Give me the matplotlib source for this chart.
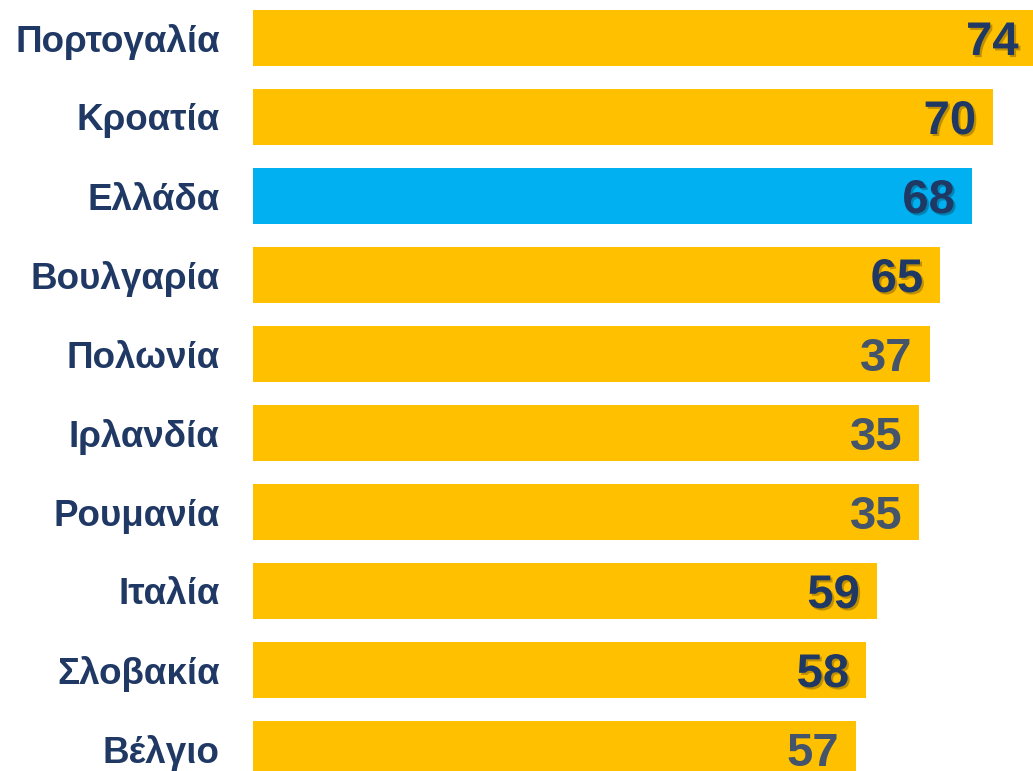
import matplotlib
matplotlib.use("Agg")
import matplotlib.pyplot as plt
import matplotlib.patheffects as pe

countries = ["Πορτογαλία", "Κροατία", "Ελλάδα", "Βουλγαρία", "Πολωνία",
             "Ιρλανδία", "Ρουμανία", "Ιταλία", "Σλοβακία", "Βέλγιο"]
bar_values = [74, 70, 68, 65, 64, 63, 63, 59, 58, 57]
labels = ["74", "70", "68", "65", "37", "35", "35", "59", "58", "57"]
highlight = "Ελλάδα"
gray_labels = ["Πολωνία", "Ιρλανδία", "Ρουμανία", "Βέλγιο"]

yellow = "#FFC000"
blue = "#00B0F0"
navy = "#1F3864"
slate = "#44546A"

plt.rcParams["font.family"] = ["Liberation Sans", "DejaVu Sans"]

fig = plt.figure(figsize=(10.33, 7.71), dpi=100)
ax = fig.add_axes([253 / 1033, 0, 1 - 253 / 1033, 1])

px_per_unit = 10.575
ax.set_xlim(0, 780 / px_per_unit)
ax.set_ylim((771 - 38) / 79, -38 / 79)

ypos = list(range(len(countries)))
colors = [blue if c == highlight else yellow for c in countries]
ax.barh(ypos, bar_values, height=55.7 / 79, color=colors, clip_on=True)

shadow = [pe.withSimplePatchShadow(offset=(1.5, -1.5), shadow_rgbFace="#000000", alpha=0.25)]
off = 17 / px_per_unit
dy = 17 / 79  # half digit height, text sits on baseline
for i, (c, v, lab) in enumerate(zip(countries, bar_values, labels)):
    if c in gray_labels:
        ax.text(v - off, i + dy, lab, ha="right", va="baseline", fontsize=34,
                fontweight="bold", color=slate)
    else:
        ax.text(v - off, i + dy, lab, ha="right", va="baseline", fontsize=34,
                fontweight="bold", color=navy, path_effects=shadow)

ax.set_yticks(ypos)
ax.set_yticklabels(countries, fontsize=26.5, fontweight="bold", color=navy)
ax.tick_params(axis="y", length=0, pad=24)
ax.set_xticks([])
for s in ax.spines.values():
    s.set_visible(False)

fig.savefig("out.png", dpi=100)
